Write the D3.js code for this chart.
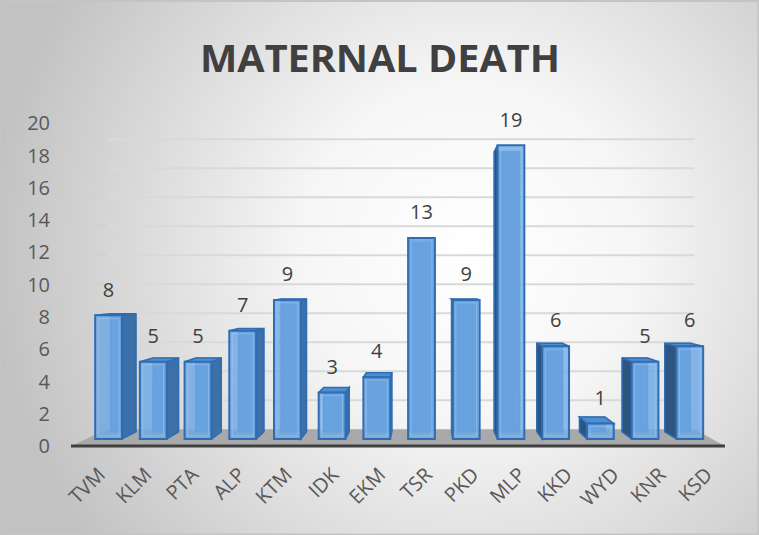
<!DOCTYPE html>
<html>
<head>
<meta charset="utf-8">
<script src="https://cdn.jsdelivr.net/npm/d3@7"></script>
<style>
  body { margin: 0; background: #fff; }
  svg { display: block; }
</style>
</head>
<body>
<svg width="759" height="535"></svg>
<script>
// data
var districts = ["TVM", "KLM", "PTA", "ALP", "KTM", "IDK", "EKM", "TSR", "PKD", "MLP", "KKD", "WYD", "KNR", "KSD"];
var deaths = [8, 5, 5, 7, 9, 3, 4, 13, 9, 19, 6, 1, 5, 6];
var yTicks = [0, 2, 4, 6, 8, 10, 12, 14, 16, 18, 20];
var title = "MATERNAL DEATH";

var width = 759, height = 535;
var svg = d3.select("svg");

// fake 3d: vanishing point + depth fractions
var vp = [425, 283];
var tFront = 0.043, tBack = 0.087, tWall = 0.102;
function proj(x, y, t) {
    return [x + (vp[0] - x) * t, y + (vp[1] - y) * t];
}

var x = d3.scaleBand()
          .domain(districts)
          .range([71, 725])
          .paddingInner(0.4)
          .paddingOuter(0.2);

var y = d3.scaleLinear()
          .domain([0, 20])
          .range([446, 123]);

// background
var defs = svg.append("defs");
var bg = defs.append("radialGradient")
             .attr("id", "bg")
             .attr("gradientUnits", "userSpaceOnUse")
             .attr("cx", 470).attr("cy", 250).attr("r", 480);
bg.append("stop").attr("offset", "0%").attr("stop-color", "#ffffff");
bg.append("stop").attr("offset", "35%").attr("stop-color", "#f6f6f6");
bg.append("stop").attr("offset", "100%").attr("stop-color", "#c2c2c2");

svg.append("rect")
   .attr("x", 0).attr("y", 0)
   .attr("width", width).attr("height", height)
   .attr("fill", "url(#bg)");
svg.append("rect")
   .attr("x", 0.5).attr("y", 1)
   .attr("width", width - 1).attr("height", height - 1.5)
   .attr("fill", "none")
   .attr("stroke", "#c4c4c4")
   .attr("stroke-width", 2);

// title
svg.append("text")
   .attr("x", 380).attr("y", 72)
   .attr("text-anchor", "middle")
   .attr("font-family", "'Open Sans', sans-serif")
   .attr("font-weight", "bold")
   .attr("font-size", 38)
   .attr("fill", "#404040")
   .attr("textLength", 360)
   .attr("lengthAdjust", "spacingAndGlyphs")
   .text(title);

var line = d3.line();

// floor
var x0 = x.range()[0], x1 = x.range()[1];
svg.append("path")
   .attr("d", line([proj(x0, y(0), 0), proj(x1, y(0), 0), proj(x1, y(0), tWall), proj(x0, y(0), tWall)]) + "Z")
   .attr("fill", "#a9a9a9");

// back wall gridlines
svg.selectAll(".grid")
   .data(yTicks.filter(function(d) { return d > 0; }))
   .enter()
   .append("path")
   .attr("class", "grid")
   .attr("d", function(d) { return line([proj(x0, y(d), tWall), proj(x1, y(d), tWall)]); })
   .attr("stroke", "#d9d9d9")
   .attr("stroke-width", 2)
   .attr("fill", "none");

// side wall gridlines (dotted)
svg.selectAll(".sgrid")
   .data(yTicks.filter(function(d) { return d > 0; }))
   .enter()
   .append("path")
   .attr("class", "sgrid")
   .attr("d", function(d) { return line([proj(x0, y(d), 0), proj(x0, y(d), tWall)]); })
   .attr("stroke", "#cfcfcf")
   .attr("stroke-width", 1.5)
   .attr("stroke-dasharray", "1.5,1")
   .attr("fill", "none");

// front edge of floor
svg.append("path")
   .attr("d", line([[x0, y(0)], [x1, y(0)]]))
   .attr("stroke", "#404040")
   .attr("stroke-width", 3);

// y axis labels
svg.selectAll(".ytick")
   .data(yTicks)
   .enter()
   .append("text")
   .attr("x", 50)
   .attr("y", function(d) { return y(d); })
   .attr("dy", "0.36em")
   .attr("text-anchor", "end")
   .attr("font-family", "'Open Sans', sans-serif")
   .attr("font-size", 20)
   .attr("fill", "#595959")
   .text(function(d) { return d; });

// bars
var rows = districts.map(function(c, i) { return { name: c, value: deaths[i] }; });
var edge = "#2f6db3";

var bars = svg.selectAll(".bar")
              .data(rows)
              .enter()
              .append("g")
              .attr("class", "bar");

bars.each(function(d) {
    var g = d3.select(this);
    var l = x(d.name), r = x(d.name) + x.bandwidth();
    var top = y(d.value), bot = y(0);
    var fTL = proj(l, top, tFront), fTR = proj(r, top, tFront),
        fBL = proj(l, bot, tFront), fBR = proj(r, bot, tFront);
    var bTL = proj(l, top, tBack), bTR = proj(r, top, tBack),
        bBL = proj(l, bot, tBack), bBR = proj(r, bot, tBack);

    // back outline, seen through the glassy front
    g.append("path")
     .attr("d", line([bTL, bTR, bBR, bBL]) + "Z")
     .attr("fill", "#4f88c6")
     .attr("stroke", edge)
     .attr("stroke-width", 1);

    if (bTR[0] > fTR[0] + 0.5) {
        g.append("path")
         .attr("d", line([fTR, bTR, bBR, fBR]) + "Z")
         .attr("fill", "#3d70a8")
         .attr("stroke", edge)
         .attr("stroke-width", 1.5);
    }
    if (bTL[0] < fTL[0] - 0.5) {
        g.append("path")
         .attr("d", line([fTL, bTL, bBL, fBL]) + "Z")
         .attr("fill", "#2d5580")
         .attr("stroke", edge)
         .attr("stroke-width", 1.5);
    }
    if (bTL[1] < fTL[1] - 0.3) {
        g.append("path")
         .attr("d", line([fTL, fTR, bTR, bTL]) + "Z")
         .attr("fill", "#4f8fd0")
         .attr("stroke", edge)
         .attr("stroke-width", 1.5);
    }

    g.append("path")
     .attr("d", line([fTL, fTR, fBR, fBL]) + "Z")
     .attr("fill", "#6ea8e4")
     .attr("fill-opacity", 0.82)
     .attr("stroke", edge)
     .attr("stroke-width", 2);

    // bevel highlight
    g.append("rect")
     .attr("x", fTL[0] + 3).attr("y", fTL[1] + 3)
     .attr("width", Math.max(0, fTR[0] - fTL[0] - 6))
     .attr("height", Math.max(0, fBL[1] - fTL[1] - 6))
     .attr("fill", "none")
     .attr("stroke", "#9cc6f0")
     .attr("stroke-opacity", 0.6)
     .attr("stroke-width", 1);

    g.append("text")
     .attr("x", (fTL[0] + fTR[0]) / 2)
     .attr("y", fTL[1] - 26)
     .attr("dy", "0.36em")
     .attr("text-anchor", "middle")
     .attr("font-family", "'Open Sans', sans-serif")
     .attr("font-size", 20)
     .attr("fill", "#404040")
     .text(d.value);
});

// category labels
svg.selectAll(".xlab")
   .data(districts)
   .enter()
   .append("text")
   .attr("transform", function(d) {
       var cx = x(d) + x.bandwidth() / 2;
       return "translate(" + (cx + 12) + ",476) rotate(-45)";
   })
   .attr("text-anchor", "end")
   .attr("font-family", "'Open Sans', sans-serif")
   .attr("font-size", 20)
   .attr("fill", "#595959")
   .text(function(d) { return d; });
</script>
</body>
</html>
